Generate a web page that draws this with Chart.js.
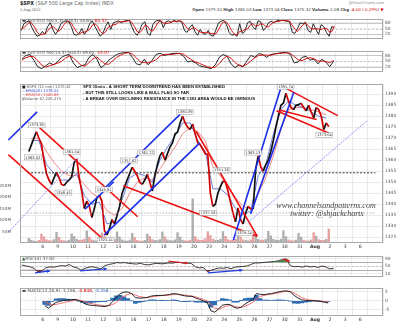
<!DOCTYPE html>
<html><head><meta charset="utf-8">
<script src="https://cdn.jsdelivr.net/npm/chart.js@4.4.1/dist/chart.umd.min.js"></script>
<style>
html,body{margin:0;padding:0;background:#fff;}
#wrap{position:relative;width:400px;height:323px;overflow:hidden;background:#fff;font-family:'DejaVu Sans',sans-serif;}
.pn{position:absolute;left:0;width:400px;}
.hd{position:absolute;white-space:nowrap;line-height:1;transform:scale(0.5);}
.l{transform-origin:left top;}
.r{transform-origin:right top;}
</style></head><body>
<div id="wrap">
<div class="hd l" style="left:20px;top:1px;font-size:9.6px;color:#666"><b style="color:#222">$SPX</b> (S&amp;P 500 Large Cap Index) INDX</div>
<div class="hd l" style="left:20px;top:8px;font-size:7px;color:#444">1-Aug-2012</div>
<div class="hd r" style="right:16px;top:1px;font-size:7.5px;color:#888">@StockCharts.com</div>
<div class="hd r" style="right:16px;top:8px;font-size:8px;color:#444"><b>Open</b> 1379.32 <b>High</b> 1385.03 <b>Low</b> 1373.04 <b>Close</b> 1375.32 <b>Volume</b> 2.0B <b>Chg</b> <span style="color:#c00">-4.00 (-0.29%) &#9660;</span></div>
<div class="pn" style="top:14px;height:29px"><canvas id="cSto1"></canvas></div>
<div class="pn" style="top:46px;height:30px"><canvas id="cSto2"></canvas></div>
<div class="pn" style="top:79px;height:172px"><canvas id="cMain"></canvas></div>
<div class="pn" style="top:251px;height:30px"><canvas id="cRsi"></canvas></div>
<div class="pn" style="top:283px;height:41px"><canvas id="cMacd"></canvas></div>
</div>
<script>
// ---------- DATA ----------
const dayLabels = ['', '6','9','10','11','12','13','16','17','18','19','20','23','24','25','26','27','30','31','Aug','2','3','6',''];

// $SPX 15-min path, 6 readings per trading day (Jul 5 .. Aug 1)
const spx = [
 1364,1367,1370,1373,1370,1367.5,
 1360,1354,1351,1349,1352,1354.5,
 1352,1349,1348.5,1350,1351,1352.5,
 1359,1360.5,1352,1346,1338,1341.5,
 1339,1334,1338,1343,1344,1341.5,
 1328,1326,1329,1333,1331,1334.8,
 1339,1345,1348,1351,1354,1356.8,
 1355,1353,1350,1349,1351,1353.6,
 1350,1346,1353,1358,1362,1363.7,
 1360,1363,1366,1368,1372,1372.8,
 1377,1380,1377,1375,1374,1376.5,
 1372,1368,1367,1365,1363,1362.7,
 1345,1339,1340,1345,1348,1350.5,
 1350,1346,1341,1336,1332,1338.3,
 1333,1331,1336,1339,1338,1337.9,
 1356,1362,1357,1355,1358,1360,
 1364,1369,1375,1380,1385,1386,
 1390.5,1387,1384,1383,1385,1385.3,
 1386,1384,1382.5,1385,1382,1379.3,
 1384,1383,1380,1374,1377,1375.3
];
// volume (millions), same 6 readings per day
const volume = [
 22,14,10,9,13,40, 28,15,12,11,16,48, 26,14,11,10,14,42, 30,17,13,14,18,55,
 27,15,12,11,15,46, 32,18,13,12,16,50, 28,15,11,10,14,44, 25,13,10,10,13,40,
 30,16,13,12,16,50, 28,15,12,11,15,47, 27,14,11,11,14,195, 30,16,13,14,20,52,
 34,18,14,13,17,52, 31,16,13,13,18,55, 28,15,12,11,15,48, 36,18,14,13,17,53,
 33,17,14,13,18,56, 30,15,12,11,14,44, 27,14,11,11,15,47, 32,16,13,13,17,62
];
// EMAs, 2 readings per day
const ema20 = [1369,1369, 1358,1354, 1351,1351, 1354,1344, 1340,1341, 1331,1332, 1342,1352,
 1354,1353, 1350,1360, 1366,1371, 1377,1377, 1369,1364, 1347,1347, 1344,1338, 1335,1337,
 1353,1358, 1372,1383, 1387,1385, 1384,1382, 1380,1379.24];
const ema50 = [1370,1370, 1364,1359, 1355,1353, 1353,1349, 1345,1343, 1337,1335, 1338,1345,
 1350,1352, 1351,1356, 1361,1366, 1372,1375, 1373,1369, 1357,1353, 1348,1343, 1339,1338,
 1345,1352, 1362,1374, 1383,1384, 1384,1383, 1382,1380.69];
// Full STO (5,3), 6 readings per day
const stoFastK = [
 40,75,85,90,55,30, 10,15,35,20,60,80, 45,20,40,75,85,90, 85,60,20,15,25,50,
 20,40,75,90,60,35, 10,25,60,85,45,80, 85,90,80,88,92,95, 60,30,15,40,75,85,
 25,15,70,88,92,90, 55,85,90,80,95,85, 90,85,40,30,55,70, 35,15,45,25,20,40,
 15,10,45,80,88,92, 70,30,15,20,10,75, 25,35,80,88,60,45, 90,85,40,55,80,88,
 80,90,92,95,90,88, 85,30,25,50,80,75, 82,40,30,75,45,20, 70,60,30,10,60,54.65
];
const stoFastD = [
 45,55,67,83,77,58, 32,18,20,23,38,53, 62,48,35,45,67,83, 87,78,55,32,20,30,
 32,37,45,68,75,62, 35,23,32,57,63,70, 70,85,85,86,87,92, 82,60,35,28,43,67,
 62,42,37,58,83,90, 79,77,77,85,88,87, 90,87,72,52,42,52, 53,40,32,28,30,28,
 25,22,23,45,71,87, 83,64,38,22,15,35, 37,45,47,68,76,64, 65,75,72,60,58,74,
 83,86,87,92,92,91, 88,67,47,35,52,68, 79,66,51,48,50,47, 45,50,53,33,33,64.32
];
// Full STO (14,3), 4 readings per day
const stoSlowK = [60,80,85,55, 20,10,25,40, 30,45,70,80, 85,40,15,25, 30,70,85,60,
 15,30,55,70, 85,92,95,97, 70,35,30,60, 30,55,85,92, 80,85,90,92, 90,75,45,50,
 40,25,20,15, 10,30,70,85, 75,35,15,30, 20,50,80,70, 90,85,70,85, 88,92,95,96,
 85,40,45,70, 75,55,60,35, 60,45,20,49.65];
const stoSlowD = [55,68,75,73, 53,28,18,25, 32,38,48,65, 78,68,47,27, 23,42,62,72,
 53,35,33,52, 70,82,91,95, 87,67,45,42, 40,48,57,77, 86,86,85,89, 91,86,70,57,
 45,38,28,20, 15,18,37,62, 77,65,42,27, 22,33,50,67, 80,82,82,80, 88,90,92,94,
 92,74,57,52, 63,68,63,50, 50,47,42,53.07];
// RSI(14), 4 readings per day
const rsi = [55,50,46,38, 20,22,40,45, 44,48,52,50, 58,45,40,28, 38,44,46,40,
 35,52,58,62, 68,66,68,64, 62,60,64,58, 56,60,64,62, 62,66,65,68, 69,64,66,62,
 45,40,42,20, 28,35,40,38, 42,36,44,46, 48,50,58,66, 66,68,70,72, 74,78,84,88,
 52,46,48,44, 50,45,48,42, 50,45,35,37.92];
// MACD(12,26,9), 4 readings per day (starts on day 2)
const macdLine = [null,null,null,null, -2.5,-4.1,-2.5,-0.9, -0.3,0.2,0.4,0.6, 0.8,0.2,-0.8,-2.0,
 -2.4,-2.6,-2.8,-3.0, -3.2,-2.5,-0.5,2.0, 4.0,4.8,4.9,4.0, 1.8,1.5,1.6,1.8, 2.5,2.9,3.0,3.0,
 3.2,3.5,4.0,3.8, 3.2,2.8,2.5,2.5, 1.5,0.8,0.0,-1.0, -5.5,-6.3,-4.5,-2.5, -2.0,-2.0,-3.5,-4.1,
 -3.5,-1.8,-0.5,0.5, 4.0,3.6,3.4,3.8, 4.0,4.5,5.0,5.4, 5.5,5.0,3.0,1.6, 0.6,0.2,0.1,0.1,
 0.0,-0.3,-0.8,-1.206];
const macdSignal = [null,null,null,null, -0.5,-1.5,-2.2,-2.0, -1.5,-1.0,-0.5,-0.1, 0.3,0.4,0.1,-0.6,
 -1.3,-1.8,-2.2,-2.5, -2.8,-2.7,-2.0,-0.8, 1.0,2.6,3.6,4.0, 3.2,2.4,2.0,1.8, 2.0,2.4,2.7,2.9,
 3.0,3.2,3.5,3.7, 3.5,3.2,2.9,2.6, 2.2,1.5,0.8,0.0, -2.0,-4.0,-4.5,-3.8, -3.0,-2.5,-2.8,-3.4,
 -3.6,-3.0,-2.0,-1.0, 1.0,2.4,3.0,3.4, 3.7,4.1,4.5,5.0, 5.3,5.2,4.3,3.0, 1.8,1.0,0.5,0.3,
 0.1,-0.1,-0.5,-0.848];
const macdHist = [null,null,null,null, -2.0,-2.6,-0.3,1.1, 1.2,1.2,0.9,0.7, 0.5,-0.2,-0.9,-1.4,
 -1.1,-0.8,-0.6,-0.5, -0.4,0.2,1.5,2.8, 3.0,2.2,1.3,0.0, -1.4,-0.9,-0.4,0.0, 0.5,0.5,0.3,0.1,
 0.2,0.3,0.5,0.1, -0.3,-0.4,-0.4,-0.1, -0.7,-0.7,-0.8,-1.0, -3.5,-2.3,0.0,1.3, 1.0,0.5,-0.7,-0.7,
 0.1,1.2,1.5,1.5, 3.0,1.2,0.4,0.4, 0.3,0.4,0.5,0.4, 0.2,-0.2,-1.3,-1.4, -1.2,-0.8,-0.4,-0.2,
 -0.1,-0.2,-0.3,-0.358];

const priceTicks = [1325,1330,1335,1340,1345,1350,1355,1360,1365,1370,1375,1380,1385,1390];
const volTicks = [50,100,150,200,250];
const stoTicks = [20,50,80];
const rsiTicks = [10,30,50,70,90];
const macdTicks = [-5,0,5];

// hand-drawn annotation lines: [day1, price1, day2, price2]
const blueLines = [[-1.27,1369.2,0.63,1382.0],[4.87,1345.8,10.25,1382.0],[5.06,1325.9,11.39,1367.9],
 [3.80,1337.8,5.70,1350.2],[13.61,1323.7,16.71,1392.2],[14.75,1335.6,17.60,1390.9]];
const thinBlueLines = [[-1.27,1327.2,3.35,1361.3],[14.56,1331.6,22.47,1378.1]];
const redLines = [[-1.27,1362.6,5.06,1323.7],[0.63,1375.9,7.28,1334.3],[11.14,1373.2,15.19,1325.4],
 [6.33,1348.4,15.19,1325.4],[17.09,1392.7,20.51,1380.3],[16.46,1382.5,19.94,1372.3],[16.65,1382.9,19.11,1378.5]];
const levelLines = [1354.3];
const greyLevels = [1336];
// high/low callouts: [day, price, text]
const priceLabels = [[0.35,1361.3,'1363.02'],[0.6,1375.9,'1373.85'],[2.91,1363.9,'1361.54'],[2.37,1345.3,'1348.45'],
 [5.16,1323.7,'1325.41'],[6.71,1359.9,'1357.62'],[7.85,1363.5,'1361.22'],[5.06,1346.7,'1345.81'],
 [10.41,1382.0,'1380.39'],[12.82,1355.5,'1351.26'],[11.93,1336.1,'1337.56'],[14.9,1363.5,'1363.13'],
 [14.34,1326.8,'1329.24'],[17.06,1393.5,'1391.74'],[19.62,1371.4,'1373.04']];
// RSI divergence arrows: [day1, rsi1, day2, rsi2]
const rsiBlueArrows = [[0.95,13.6,1.9,24.5],[3.8,24.5,5.5,35.5],[11.9,13.6,14.1,28]];
const rsiRedArrows = [[9.4,75.5,10.65,64.5],[16.65,86,17.1,75]];

// ---------- HELPERS ----------
const FONT = "'DejaVu Sans', sans-serif";
const GRID = '#e4e4e4';
Chart.defaults.font.family = FONT;
const X = (arr, perDay) => arr.map((v,i)=>({x: Math.floor(i/perDay) + ((i%perDay)+0.5)/perDay, y: v}));
const seg = a => [{x:a[0],y:a[1]},{x:a[2],y:a[3]}];

function xAxis(labels){ return {
  type:'linear', min:0, max:23,
  afterBuildTicks: s => { s.ticks = dayLabels.map((t,i)=>({value:i})); },
  ticks:{display:labels, autoSkip:false, maxRotation:0, padding:1.5, color:'#333',
    font: c => ({family:FONT, size:4.6, weight: (c.tick && dayLabels[c.tick.value]==='Aug')?'bold':'normal'}),
    callback: v => dayLabels[v]},
  grid:{color:GRID, lineWidth:0.8, drawTicks:false},
  border:{display:false},
  afterFit: s => { s.height = labels ? 8 : 0; }
};}
function yAxis(min,max,ticks,fmt){ return {
  position:'right', min, max,
  afterBuildTicks: s => { s.ticks = ticks.map(v=>({value:v})); },
  ticks:{padding:2, color:'#555', font:{family:FONT,size:4.4}, callback: fmt || (v=>String(v))},
  grid:{color:GRID, lineWidth:0.8, drawTicks:false},
  border:{display:false},
  afterFit: s => { s.width = 17; }
};}
const frame = {id:'frame',
  beforeDraw(ch){const c=ch.ctx; c.save(); c.fillStyle='#fff'; c.fillRect(0,0,ch.width,ch.height); c.restore();},
  afterDraw(ch){const c=ch.ctx, a=ch.chartArea; c.save(); c.strokeStyle='#a9a9a9'; c.lineWidth=1;
    c.strokeRect(Math.round(a.left)+0.5, Math.round(a.top)+0.5, Math.round(a.right-a.left)-1, Math.round(a.bottom-a.top)-1); c.restore();}};
function rich(c, x, y, parts, size){
  let cx = x;
  parts.forEach(([t,col,bold])=>{ c.font = (bold?'bold ':'') + size + 'px ' + FONT; c.fillStyle = col; c.fillText(t, cx, y); cx += c.measureText(t).width; });
}
function hlinePlugin(id, lines){ return {id, beforeDatasetsDraw(ch){
  const c=ch.ctx, a=ch.chartArea, y=ch.scales.y; c.save();
  lines.forEach(([v,col,dash])=>{ const py=Math.round(y.getPixelForValue(v))+0.5; c.strokeStyle=col; c.lineWidth=0.8; c.setLineDash(dash||[]);
    c.beginPath(); c.moveTo(a.left,py); c.lineTo(a.right,py); c.stroke(); });
  c.restore(); }}; }
function legendPlugin(id, parts, dy){ return {id, afterDraw(ch){
  const c=ch.ctx, a=ch.chartArea; c.save(); c.textBaseline='middle'; c.textAlign='left';
  rich(c, a.left+2, a.top+dy, parts, 4.3); c.restore(); }}; }
function baseOpts(extraPadLeft){ return {
  responsive:true, maintainAspectRatio:false, animation:false, devicePixelRatio:1,
  layout:{padding:{left:extraPadLeft, right:0, top:0, bottom:0}},
  plugins:{legend:{display:false}, tooltip:{enabled:false}},
  elements:{point:{radius:0}, line:{tension:0}}
};}
function lineDs(data, color, width, extra){ return Object.assign({type:'line', data, borderColor:color, borderWidth:width, pointRadius:0, fill:false}, extra||{}); }

// ---------- STO (5,3) ----------
new Chart(document.getElementById('cSto1'), {
  type:'line',
  data:{datasets:[ lineDs(X(stoFastD,6),'#d40000',0.9), lineDs(X(stoFastK,6),'#111',0.9) ]},
  options:Object.assign(baseOpts(20), {scales:{x:xAxis(false), y:yAxis(-1,101.4,stoTicks)}}),
  plugins:[frame, hlinePlugin('h1',[[80,'#bbb'],[20,'#bbb'],[50,'#bbb',[2,2]]]),
    legendPlugin('lg1',[['\u25AC ','#333'],['Full STO %K(5,3) %D(3) 54.65, ','#555'],['64.32','#d00']],2.5)]
});
// ---------- STO (14,3) ----------
new Chart(document.getElementById('cSto2'), {
  type:'line',
  data:{datasets:[ lineDs(X(stoSlowD,4),'#d40000',0.9), lineDs(X(stoSlowK,4),'#111',0.9) ]},
  options:Object.assign(baseOpts(20), {scales:{x:xAxis(false), y:yAxis(-4.8,105.6,stoTicks)}}),
  plugins:[frame, hlinePlugin('h2',[[80,'#bbb'],[20,'#bbb'],[50,'#bbb',[2,2]]]),
    legendPlugin('lg2',[['\u25AC ','#333'],['Full STO %K(14,3) %D(3) 49.65, ','#555'],['53.07','#d00']],2.5)]
});

// ---------- MAIN PRICE PANEL ----------
const mainDecor = {id:'mainDecor', afterDatasetsDraw(ch){
  const c=ch.ctx, a=ch.chartArea, x=ch.scales.x, y=ch.scales.y;
  c.save();
  c.textAlign='center'; c.textBaseline='middle';
  c.font = '3.6px ' + FONT;
  priceLabels.forEach(([d,p,t])=>{
    const px=x.getPixelForValue(d), py=y.getPixelForValue(p), w=c.measureText(t).width+2;
    c.fillStyle='#fff'; c.fillRect(px-w/2,py-2.5,w,5);
    c.strokeStyle='#999'; c.lineWidth=0.5; c.strokeRect(px-w/2,py-2.5,w,5);
    c.fillStyle='#333'; c.fillText(t,px,py+0.2);
  });
  // commentary
  c.textAlign='left'; c.fillStyle='#111';
  c.font = 'bold 4.4px ' + "'Liberation Sans', Arial, sans-serif";
  c.fillText('SPX 15min - A SHORT TERM DOWNTREND HAS BEEN ESTABLISHED', a.left+63, a.top+3, 142);
  c.fillText('- BUT THIS STILL LOOKS LIKE A BULL FLAG SO FAR', a.left+63, a.top+9.3, 106);
  c.fillText('- A BREAK OVER DECLINING RESISTANCE IN THE 1383 AREA WOULD BE OMINOUS', a.left+63, a.top+15.6, 172);
  // watermark
  c.textAlign='center'; c.fillStyle='#444';
  c.font = 'italic 8px ' + "'Liberation Serif', serif";
  c.fillText('www.channelsandpatterns.com', a.left+306, a.top+122, 106);
  c.fillText('twitter: @shjackcharts', a.left+307, a.top+130, 74);
  // legend
  c.textAlign='left';
  rich(c, a.left+2, a.top+3, [['\u25A0 ','#222'],['$SPX (15 min) 1375.32','#555']], 3.8);
  rich(c, a.left+2, a.top+7, [['\u2014','#3344cc'],['EMA(20) 1379.24','#3344cc']], 3.8);
  rich(c, a.left+2, a.top+11, [['\u2014','#e04040'],['EMA(50) 1380.69','#e04040']], 3.8);
  rich(c, a.left+2, a.top+15, [['\u25AE','#999'],['Volume 67,235,275','#555']], 3.8);
  c.restore();
}};
const mainSets = [
  {type:'bar', data:X(volume,6), yAxisID:'yv', order:10, barPercentage:0.95, categoryPercentage:1,
   backgroundColor: ctx => { const i=ctx.dataIndex; return (i>0 && spx[i]<spx[i-1]) ? 'rgba(228,150,150,0.9)' : 'rgba(165,165,165,0.9)'; }},
  lineDs(X(ema50,2),'#f07a7a',0.9,{order:6}),
  lineDs(X(ema20,2),'#6070d8',0.9,{order:5}),
  lineDs(X(spx,6),'#111',1.7,{order:3, segment:{borderColor: s => s.p1.parsed.y < s.p0.parsed.y ? '#d00000' : '#111'}})
];
levelLines.forEach(v=>mainSets.push(lineDs([{x:0,y:v},{x:23,y:v}],'#222',0.9,{order:2,borderDash:[2,1.5]})));
greyLevels.forEach(v=>mainSets.push(lineDs([{x:0,y:v},{x:23,y:v}],'#aaa',0.9,{order:2,borderDash:[1.5,1.5]})));
thinBlueLines.forEach(l=>mainSets.push(lineDs(seg(l),'#6a6af2',0.8,{order:1,borderDash:[1.5,1],clip:false})));
blueLines.forEach(l=>mainSets.push(lineDs(seg(l),'#1a2ee8',1.6,{order:1,clip:false})));
redLines.forEach(l=>mainSets.push(lineDs(seg(l),'#ee1111',1.6,{order:1,clip:false})));

new Chart(document.getElementById('cMain'), {
  type:'line',
  data:{datasets:mainSets},
  options:Object.assign(baseOpts(0), {scales:{
    x:xAxis(true),
    y:yAxis(1322.35,1394.86,priceTicks),
    yv:{position:'left', min:0, max:698,
      afterBuildTicks: s => { s.ticks = volTicks.map(v=>({value:v})); },
      ticks:{padding:1, color:'#555', font:{family:FONT,size:4.2}, callback: v => v+'M'},
      grid:{display:false}, border:{display:false}, afterFit: s => { s.width = 20; }}
  }}),
  plugins:[frame, mainDecor]
});

// ---------- RSI ----------
function arrowsPlugin(id, groups){ return {id, afterDatasetsDraw(ch){
  const c=ch.ctx, x=ch.scales.x, y=ch.scales.y; c.save();
  groups.forEach(([list,col])=>list.forEach(([d1,v1,d2,v2])=>{
    const x1=x.getPixelForValue(d1), y1=y.getPixelForValue(v1), x2=x.getPixelForValue(d2), y2=y.getPixelForValue(v2);
    c.strokeStyle=col; c.fillStyle=col; c.lineWidth=1.2; c.beginPath(); c.moveTo(x1,y1); c.lineTo(x2,y2); c.stroke();
    const ang=Math.atan2(y2-y1,x2-x1), L=3.5;
    c.beginPath(); c.moveTo(x2,y2); c.lineTo(x2-L*Math.cos(ang-0.5), y2-L*Math.sin(ang-0.5)); c.lineTo(x2-L*Math.cos(ang+0.5), y2-L*Math.sin(ang+0.5)); c.closePath(); c.fill();
  }));
  c.restore(); }}; }
new Chart(document.getElementById('cRsi'), {
  type:'line',
  data:{datasets:[
    lineDs(X(rsi,4),'rgba(0,0,0,0)',0,{fill:{target:{value:70}, above:'#4f7f4f', below:'rgba(0,0,0,0)'}}),
    lineDs(X(rsi,4),'rgba(0,0,0,0)',0,{fill:{target:{value:30}, above:'rgba(0,0,0,0)', below:'#7a2838'}}),
    lineDs(X(rsi,4),'#222',0.9)
  ]},
  options:Object.assign(baseOpts(20), {scales:{x:xAxis(false), y:yAxis(-4.5,104.5,rsiTicks)}}),
  plugins:[frame, hlinePlugin('h3',[[70,'#999'],[30,'#999'],[50,'#bbb',[2,2]]]),
    arrowsPlugin('ar',[[rsiBlueArrows,'#1f3fe0'],[rsiRedArrows,'#e02020']]),
    legendPlugin('lg3',[['\u25B2','#3a6a3a'],['RSI(14) 37.92','#555']],3)]
});

// ---------- MACD ----------
new Chart(document.getElementById('cMacd'), {
  type:'line',
  data:{datasets:[
    {type:'bar', data:X(macdHist,4), backgroundColor:'#2f6db3', barPercentage:1, categoryPercentage:1, order:5},
    lineDs(X(macdSignal,4),'#f06060',0.9,{order:2}),
    lineDs(X(macdLine,4),'#111',0.9,{order:1})
  ]},
  options:Object.assign(baseOpts(20), {scales:{x:xAxis(true), y:yAxis(-8.4,7.3,macdTicks)}}),
  plugins:[frame, legendPlugin('lg4',[['\u25AC ','#333'],['MACD(12,26,9) -1.206, ','#555'],['-0.848','#d00'],[', ','#555'],['-0.358','#2f6db3']],3)]
});
</script>
</body></html>
